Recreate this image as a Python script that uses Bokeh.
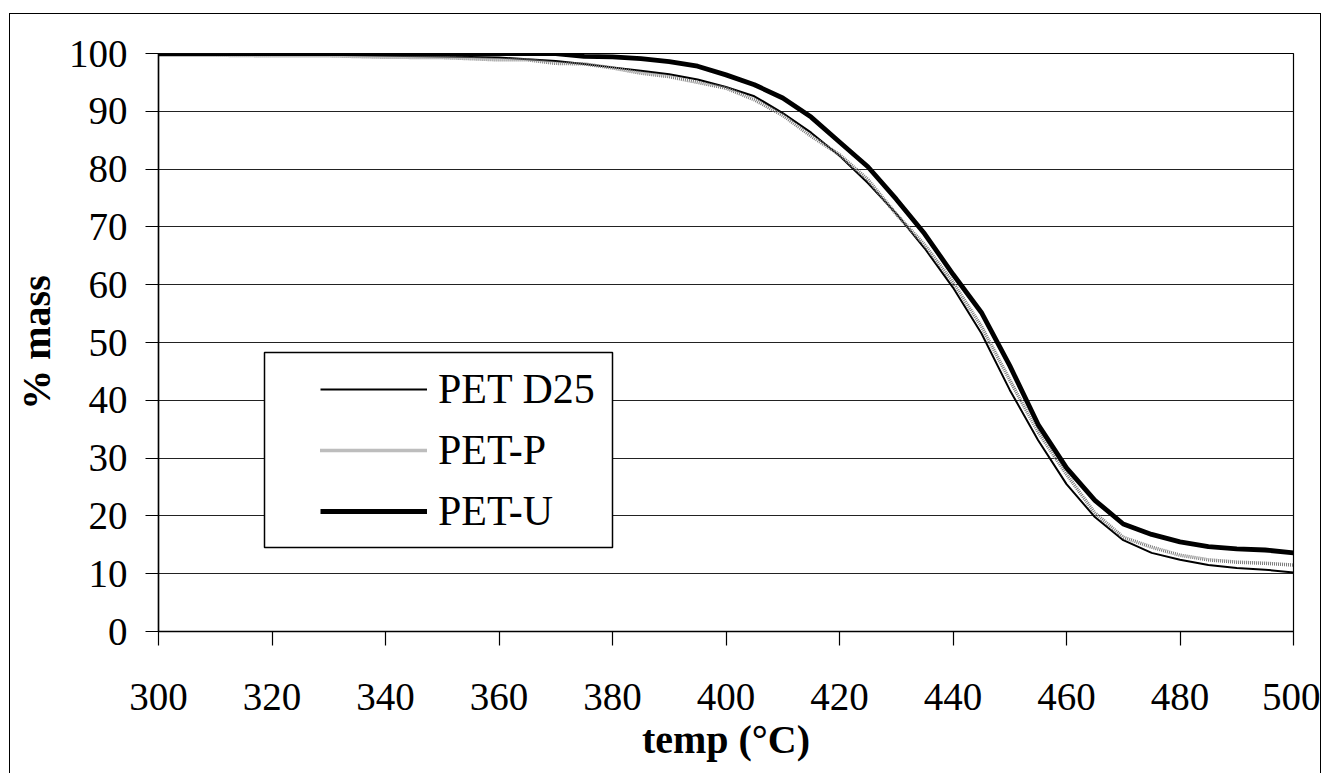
from bokeh.plotting import figure
from bokeh.models import Legend, LegendItem, BoxAnnotation, FixedTicker
from bokeh.embed import file_html
from bokeh.resources import INLINE

temp = [300, 310, 320, 330, 340, 350, 360, 365, 370, 375, 380, 385, 390, 395, 400,
        405, 410, 415, 420, 425, 430, 435, 440, 445, 450, 455, 460, 465, 470,
        475, 480, 485, 490, 495, 500]

pet_d25 = [100, 100, 100, 99.8, 99.6, 99.5, 99.3, 99.0, 98.7, 98.2, 97.6, 97.0, 96.4, 95.5, 94.2,
           92.6, 89.7, 86.3, 82.3, 77.6, 72.3, 66.3, 59.5, 51.6, 41.8, 33.1, 25.5, 19.8, 15.8,
           13.6, 12.4, 11.5, 11.0, 10.7, 10.2]

pet_p = [99.7, 99.7, 99.6, 99.6, 99.35, 99.3, 98.9, 98.9, 98.3, 98.2, 97.5, 96.6, 96.0, 95.0, 94.0,
         92.0, 89.3, 85.7, 82.5, 78.2, 72.2, 66.9, 60.4, 52.8, 43.5, 34.5, 27.2, 20.5, 16.3,
         14.6, 13.2, 12.4, 12.0, 11.8, 11.5]

pet_u = [100, 100, 100, 100, 100, 100, 100, 100, 100, 99.5, 99.4, 99.1, 98.6, 97.8, 96.3,
         94.6, 92.3, 89.0, 84.7, 80.4, 74.8, 68.8, 61.8, 55.2, 46.0, 35.8, 28.3, 22.7, 18.6,
         16.8, 15.5, 14.7, 14.3, 14.1, 13.6]

x_ticks = [300, 320, 340, 360, 380, 400, 420, 440, 460, 480, 500]
y_ticks = [0, 10, 20, 30, 40, 50, 60, 70, 80, 90, 100]

FONT = "Liberation Serif"

p = figure(width=1312, height=760, x_range=(300, 500), y_range=(0, 100),
           output_backend="svg", toolbar_location=None,
           min_border_left=148, min_border_right=29, min_border_top=39, min_border_bottom=143)

# outer chart border (top, left, right; bottom lies outside the window)
p.styles = {"margin-left": "9px", "margin-top": "13px",
            "border-top": "1px solid black", "border-left": "1px solid black",
            "border-right": "1px solid black"}

p.background_fill_color = "white"
p.border_fill_color = "white"
p.outline_line_color = "black"
p.outline_line_width = 1.2

p.xgrid.grid_line_color = None
p.ygrid.grid_line_color = "#222222"
p.ygrid.grid_line_width = 1
p.ygrid.ticker = FixedTicker(ticks=y_ticks)

p.xaxis.ticker = FixedTicker(ticks=x_ticks)
p.yaxis.ticker = FixedTicker(ticks=y_ticks)
for ax in (p.xaxis, p.yaxis):
    ax.axis_line_color = "black"
    ax.axis_line_width = 1.5
    ax.major_tick_line_color = "black"
    ax.major_tick_line_width = 1.2
    ax.major_tick_in = 0
    ax.minor_tick_line_color = None
    ax.major_label_text_font = FONT
    ax.major_label_text_font_size = "39px"
    ax.major_label_text_color = "black"
    ax.axis_label_text_font = FONT
    ax.axis_label_text_font_size = "40px"
    ax.axis_label_text_font_style = "bold"
    ax.axis_label_text_color = "black"

p.xaxis.major_tick_out = 14
p.yaxis.major_tick_out = 13
p.xaxis.major_label_standoff = 38
p.yaxis.major_label_standoff = 18
p.xaxis.axis_label = "temp (°C)"
p.yaxis.axis_label = "% mass"
p.xaxis.axis_label_standoff = 4
p.yaxis.axis_label_standoff = 7

r1 = p.line(temp, pet_d25, line_color="black", line_width=2)
r2 = p.line(temp, pet_p, line_color="#7a7a7a", line_width=3.5, line_dash="1 1")
r3 = p.line(temp, pet_u, line_color="black", line_width=4.8)

legend_box = BoxAnnotation(left=253, right=601, top=337, bottom=532,
                           left_units="canvas", right_units="canvas",
                           top_units="canvas", bottom_units="canvas",
                           fill_color="white", fill_alpha=1,
                           line_color="black", line_alpha=1, line_width=1.5)
p.add_layout(legend_box)

legend = Legend(items=[LegendItem(label="PET D25", renderers=[r1]),
                       LegendItem(label="PET-P", renderers=[r2]),
                       LegendItem(label="PET-U", renderers=[r3])],
                location=(162, 96), orientation="vertical",
                border_line_color=None, background_fill_alpha=0,
                padding=0, margin=0, spacing=13,
                glyph_width=107, glyph_height=40, label_height=40,
                label_standoff=11,
                label_text_font=FONT, label_text_font_size="42px",
                label_text_color="black")
p.add_layout(legend, "center")

open("out.html", "w").write(file_html(p, INLINE))
